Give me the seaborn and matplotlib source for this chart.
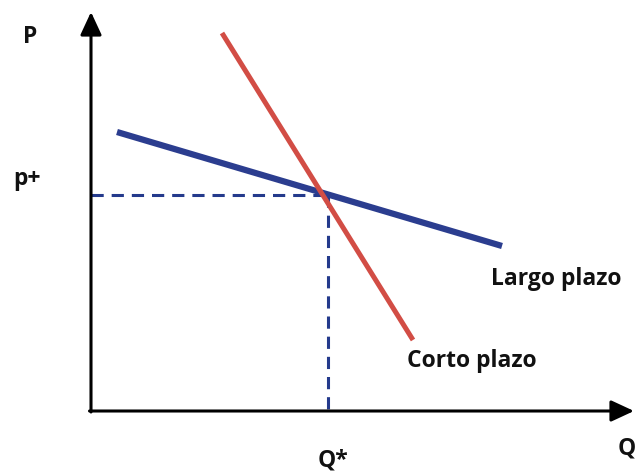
import pandas as pd
import matplotlib
matplotlib.use("Agg")
import matplotlib.pyplot as plt
import seaborn as sns

# Coordinates: origin at the corner of the axes (Q=0, P=0)
largo_q = [26, 411]
largo_p = [279, 165]
corto_q = [131, 322]
corto_p = [378, 71]
q_star = 237
p_plus = 216

labels = {"P": "P", "p": "p+", "qs": "Q*", "q": "Q",
          "largo": "Largo plazo", "corto": "Corto plazo"}

sns.set_style("white")
plt.rcParams['font.family'] = ['Open Sans', 'DejaVu Sans']

fig = plt.figure(figsize=(6.35, 4.72), dpi=100)
ax = fig.add_axes([0, 0, 1, 1])
ax.set_xlim(-91, 544)
ax.set_ylim(-61, 411)
ax.axis("off")

largo = pd.DataFrame({"Q": largo_q, "P": largo_p})
corto = pd.DataFrame({"Q": corto_q, "P": corto_p})

# Dashed guide lines
ax.plot([0, q_star], [p_plus, p_plus], color="#243a8c", lw=2.2,
        dashes=(4, 2.6), zorder=1)
ax.plot([q_star, q_star], [p_plus, 0], color="#243a8c", lw=2.2,
        dashes=(4, 2.6), zorder=1)

sns.lineplot(data=largo, x="Q", y="P", color="#2b3d8f", lw=4.5, ax=ax,
             zorder=3, solid_capstyle="butt")
sns.lineplot(data=corto, x="Q", y="P", color="#d24d45", lw=3.6, ax=ax,
             zorder=4, solid_capstyle="butt")

# Axes with arrows
arrow = dict(arrowstyle="-|>,head_length=1.4,head_width=0.65", color="black",
             lw=2.2, shrinkA=0, shrinkB=0)
ax.annotate("", xy=(0, 399), xytext=(0, -1), arrowprops=arrow)
ax.annotate("", xy=(543, 0), xytext=(-1.5, 0), arrowprops=arrow)

font = dict(fontsize=16.5, fontweight="bold", color="#111111",
            ha="left", va="baseline")
ax.text(-68, 368, labels["P"], **font)
ax.text(-78, 226, labels["p"], **font)
ax.text(227, -55, labels["qs"], **font)
ax.text(527, -44, labels["q"], **font)
ax.text(465, 126, labels["largo"], **dict(font, ha="center"))
ax.text(381, 44, labels["corto"], **dict(font, ha="center"))

fig.savefig("out.png", dpi=100)
